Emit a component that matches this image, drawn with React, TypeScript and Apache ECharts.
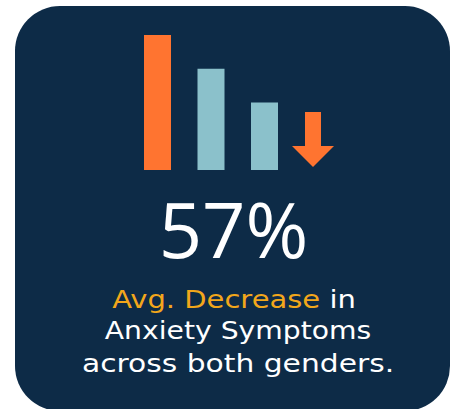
import React, { useEffect, useRef } from "react";
import * as echarts from "echarts";

const categories = ["Before", "Mid", "After", "Change"];
const barValues = [4, 3, 2, 0];
const barColors = ["#FF7430", "#8BC1CB", "#8BC1CB", "#FF7430"];
const headline = "57%";
const highlightText = "Avg. Decrease";
const lineOneRest = " in";
const lineTwo = "Anxiety Symptoms";
const lineThree = "across both genders.";

const NAVY = "#0D2B47";
const ORANGE = "#FF7430";
const GOLD = "#F2A71B";
const FONT = "'Open Sans', 'Noto Sans', sans-serif";
const BODY_FONT = "'DejaVu Sans', sans-serif";

export default function App() {
  const ref = useRef<HTMLDivElement>(null);
  useEffect(() => {
    if (!ref.current) return;
    const chart = echarts.init(ref.current, null, { renderer: "svg" });
    chart.setOption({
      animation: false,
      backgroundColor: "#ffffff",
      grid: { left: 130.75, top: 35, width: 214, height: 135 },
      xAxis: {
        type: "category",
        data: categories,
        show: false,
      },
      yAxis: { type: "value", min: 0, max: 4, show: false },
      graphic: [
        {
          type: "rect",
          z: -10,
          shape: { x: 15, y: 6, width: 435, height: 405, r: 45 },
          style: { fill: NAVY },
        },
        {
          type: "polygon",
          z: 10,
          shape: {
            points: [
              [305, 112],
              [321, 112],
              [321, 146],
              [334, 146],
              [313, 167],
              [292, 146],
              [305, 146],
            ],
          },
          style: { fill: ORANGE },
        },
        {
          type: "text",
          z: 10,
          x: 233.5,
          y: 228,
          style: {
            text: headline,
            fill: "#ffffff",
            font: `normal 76px ${FONT}`,
            textAlign: "center",
            textVerticalAlign: "middle",
          },
        },
        {
          type: "text",
          z: 10,
          x: 234,
          y: 299,
          scaleX: 1.16,
          style: {
            text: `{o|${highlightText}}{w|${lineOneRest}}`,
            textAlign: "center",
            textVerticalAlign: "middle",
            rich: {
              o: { fill: GOLD, font: `normal 25px ${BODY_FONT}` },
              w: { fill: "#ffffff", font: `normal 25px ${BODY_FONT}` },
            },
          },
        },
        {
          type: "text",
          z: 10,
          x: 238,
          y: 330,
          scaleX: 1.13,
          style: {
            text: lineTwo,
            fill: "#ffffff",
            font: `normal 25px ${BODY_FONT}`,
            textAlign: "center",
            textVerticalAlign: "middle",
          },
        },
        {
          type: "text",
          z: 10,
          x: 238,
          y: 363,
          scaleX: 1.19,
          style: {
            text: lineThree,
            fill: "#ffffff",
            font: `normal 25px ${BODY_FONT}`,
            textAlign: "center",
            textVerticalAlign: "middle",
          },
        },
      ],
      series: [
        {
          type: "bar",
          barWidth: 27,
          data: barValues.map((v, i) => ({
            value: v,
            itemStyle: { color: barColors[i] },
          })),
        },
      ],
    });
    return () => chart.dispose();
  }, []);
  return (
    <div
      ref={ref}
      style={{ position: "fixed", left: 0, top: 0, width: 453, height: 409 }}
    />
  );
}
